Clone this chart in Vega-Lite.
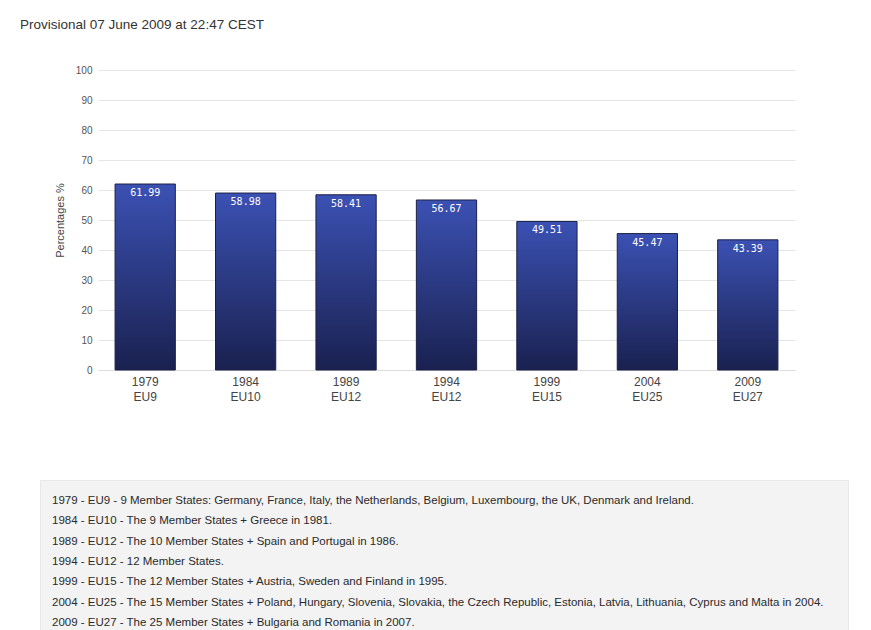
{
  "$schema": "https://vega.github.io/schema/vega-lite/v6.json",
  "padding": {"left": 20, "top": 17, "right": 0, "bottom": 0},
  "background": "white",
  "config": {"view": {"stroke": null}, "font": "Liberation Sans"},
  "spacing": 77,
  "vconcat": [
    {
      "width": 755,
      "height": 300,
      "title": {"text": "Provisional 07 June 2009 at 22:47 CEST", "anchor": "start", "frame": "group", "dx": -20, "offset": 34, "fontSize": 13.5, "fontWeight": "normal", "color": "#333333", "font": "Liberation Sans"},
      "data": {"values": [
        {"label": "1979|EU9", "turnout": 61.99},
        {"label": "1984|EU10", "turnout": 58.98},
        {"label": "1989|EU12", "turnout": 58.41},
        {"label": "1994|EU12", "turnout": 56.67},
        {"label": "1999|EU15", "turnout": 49.51},
        {"label": "2004|EU25", "turnout": 45.47},
        {"label": "2009|EU27", "turnout": 43.39}
      ]},
      "encoding": {
        "x": {"field": "label", "type": "nominal", "sort": null,
          "scale": {"range": [58, 755], "paddingInner": 0.4, "paddingOuter": 0.17},
          "axis": {"title": null, "labelAngle": 0, "labelExpr": "split(datum.label, '|')", "labelFontSize": 12, "labelColor": "#444444", "ticks": false, "domainColor": "#dddddd", "labelPadding": 6, "labelLineHeight": 15}},
        "y": {"field": "turnout", "type": "quantitative", "scale": {"domain": [0, 100]},
          "axis": {"title": "Percentages %", "offset": -58, "values": [0, 10, 20, 30, 40, 50, 60, 70, 80, 90, 100], "labelOverlap": false, "grid": true, "gridColor": "#e5e5e5", "domain": false, "ticks": false, "labelFontSize": 10, "labelColor": "#555555", "titleFontSize": 11, "titleFontWeight": "normal", "titleColor": "#444444", "labelPadding": 6, "titlePadding": 10}}
      },
      "layer": [
        {
          "mark": {"type": "bar", "stroke": "#1c2147", "strokeWidth": 1,
            "color": {"gradient": "linear", "x1": 0, "y1": 0, "x2": 0, "y2": 1,
              "stops": [{"offset": 0, "color": "#3b51b3"}, {"offset": 1, "color": "#1a2150"}]}}
        },
        {
          "mark": {"type": "text", "baseline": "top", "dy": 4, "color": "white", "font": "DejaVu Sans Mono", "fontSize": 10},
          "encoding": {
            "text": {"field": "turnout", "type": "quantitative", "format": ".2f"}
          }
        }
      ]
    },
    {
      "width": 808,
      "height": 152,
      "view": {"fill": "#f3f3f3", "stroke": "#e8e8e8"},
      "data": {"values": [
        {"order": 1, "note": "1979 - EU9 - 9 Member States: Germany, France, Italy, the Netherlands, Belgium, Luxembourg, the UK, Denmark and Ireland."},
        {"order": 2, "note": "1984 - EU10 - The 9 Member States + Greece in 1981."},
        {"order": 3, "note": "1989 - EU12 - The 10 Member States + Spain and Portugal in 1986."},
        {"order": 4, "note": "1994 - EU12 - 12 Member States."},
        {"order": 5, "note": "1999 - EU15 - The 12 Member States + Austria, Sweden and Finland in 1995."},
        {"order": 6, "note": "2004 - EU25 - The 15 Member States + Poland, Hungary, Slovenia, Slovakia, the Czech Republic, Estonia, Latvia, Lithuania, Cyprus and Malta in 2004."},
        {"order": 7, "note": "2009 - EU27 - The 25 Member States + Bulgaria and Romania in 2007."}
      ]},
      "mark": {"type": "text", "align": "left", "baseline": "middle", "dx": -392, "fontSize": 11.5, "color": "#2a2a2a"},
      "encoding": {
        "y": {"field": "order", "type": "ordinal", "scale": {"type": "point", "range": [21, 143], "padding": 0}, "axis": null},
        "text": {"field": "note"}
      }
    }
  ]
}
